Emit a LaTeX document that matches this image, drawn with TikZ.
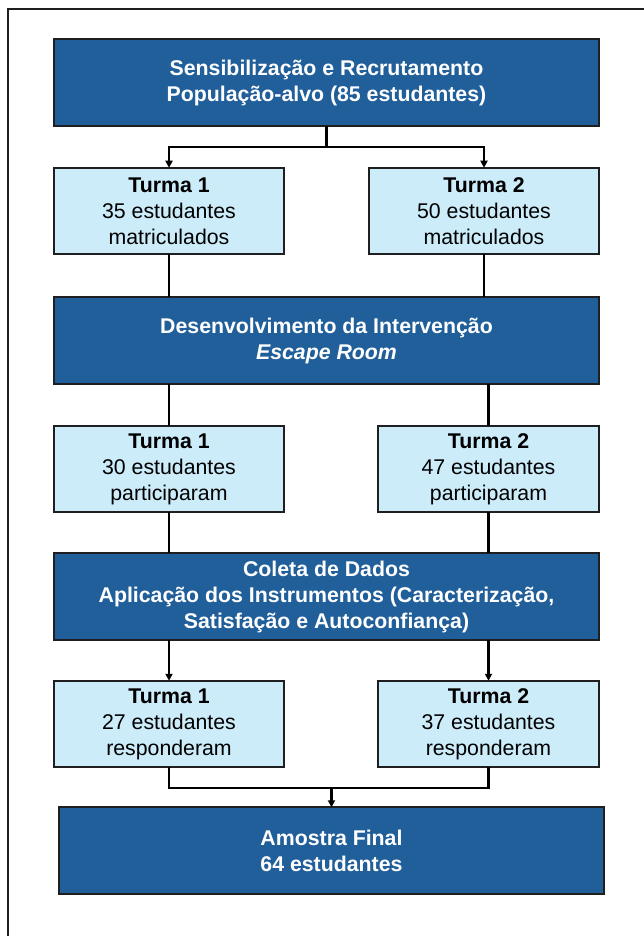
\documentclass[tikz,border=0pt]{standalone}
\usepackage{fontspec}
\setmainfont{Liberation Sans}
\usepackage{tikz}
\usetikzlibrary{arrows.meta, positioning}
\usepackage{xcolor}
\definecolor{dkblue}{HTML}{215F9A}
\definecolor{ltblue}{HTML}{CCECFA}
\definecolor{edge}{HTML}{1F1F1F}

\begin{document}
\begin{tikzpicture}[
  x=1pt, y=-1pt,
  font=\fontsize{21.3pt}{26pt}\selectfont,
  stagebox/.style={rectangle, draw=edge, line width=1.6pt, outer sep=0pt, fill=dkblue, text=white, font=\fontsize{21.3pt}{26pt}\selectfont\bfseries, align=center, minimum width=545pt, minimum height=86.5pt, inner sep=0pt},
  turmabox/.style={rectangle, draw=edge, line width=1.6pt, outer sep=0pt, fill=ltblue, align=center, minimum width=230pt, minimum height=86.5pt, inner sep=0pt},
  conn/.style={line width=2.2pt, draw=black},
  arr/.style={conn, -{Triangle[length=7pt, width=7pt]}}
]
\useasboundingbox (0,0) rectangle (644,936);
\begin{scope}
\clip (0,0) rectangle (644,936);
\draw[line width=2.2pt, draw=edge] (8,9) rectangle (700,1000);
\end{scope}

\node[stagebox] (A) at (326.5,82.5) {Sensibilização e Recrutamento\\População-alvo (85 estudantes)};
\node[turmabox, below right=42pt and 0pt of A.south west] (t1a) {\textbf{Turma 1}\\35 estudantes\\matriculados};
\node[turmabox, below left=42pt and 0pt of A.south east] (t2a) {\textbf{Turma 2}\\50 estudantes\\matriculados};
\node[stagebox, below right=43pt and 0pt of t1a.south west] (B) {Desenvolvimento da Intervenção\\\textit{Escape Room}};
\node[turmabox, below right=42pt and 0pt of B.south west] (t1b) {\textbf{Turma 1}\\30 estudantes\\participaram};
\node[turmabox, minimum width=221pt, below left=42pt and 0pt of B.south east] (t2b) {\textbf{Turma 2}\\47 estudantes\\participaram};
\node[stagebox, below right=41pt and 0pt of t1b.south west] (C) {Coleta de Dados\\Aplicação dos Instrumentos (Caracterização,\\Satisfação e Autoconfiança)};
\node[turmabox, below right=41pt and 0pt of C.south west] (t1c) {\textbf{Turma 1}\\27 estudantes\\responderam};
\node[turmabox, minimum width=221pt, below left=41pt and 0pt of C.south east] (t2c) {\textbf{Turma 2}\\37 estudantes\\responderam};
\node[stagebox, below right=40pt and 5pt of t1c.south west] (D) {Amostra Final\\64 estudantes};

\draw[conn] (A.south) -- ++(0,21) coordinate (split);
\draw[arr] (split) -| (t1a.north);
\draw[arr] (split) -| (t2a.north);
\draw[conn] (t1a.south) -- (t1a.south |- B.north);
\draw[conn] (t2a.south) -- (t2a.south |- B.north);
\draw[conn] (t1b.north |- B.south) -- (t1b.north);
\draw[conn] (t2b.north |- B.south) -- (t2b.north);
\draw[conn] (t1b.south) -- (t1b.south |- C.north);
\draw[conn] (t2b.south) -- (t2b.south |- C.north);
\draw[arr] (t1c.north |- C.south) -- (t1c.north);
\draw[arr] (t2c.north |- C.south) -- (t2c.north);
\draw[conn] (t1c.south) -- ++(0,21) coordinate (merge) -| (t2c.south);
\draw[arr] (merge -| D.north) -- (D.north);
\end{tikzpicture}
\end{document}
